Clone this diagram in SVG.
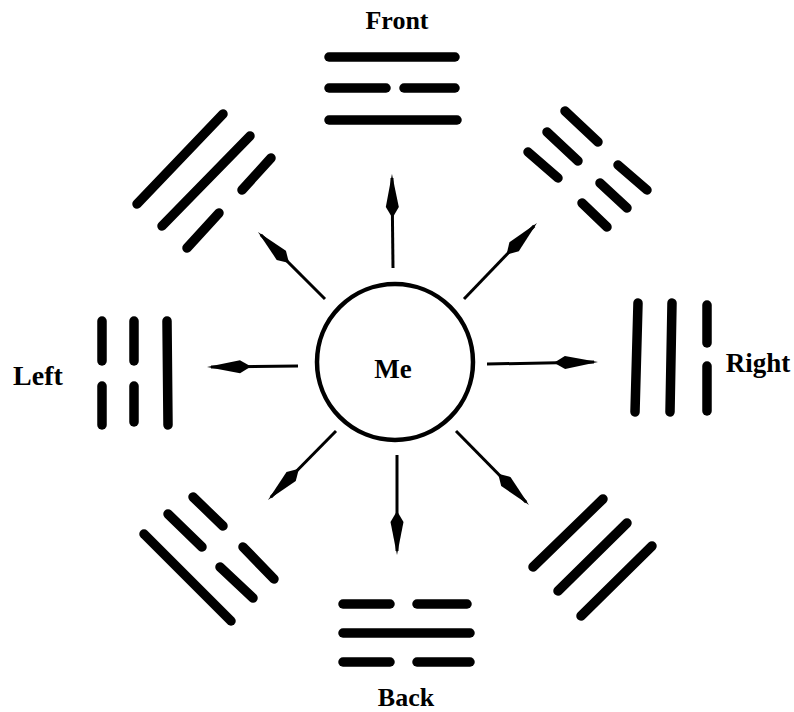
<svg xmlns="http://www.w3.org/2000/svg" width="794" height="712" viewBox="0 0 794 712">
<style>
.bar{stroke:#000;stroke-width:9.5;stroke-linecap:round;fill:none}
.arr{stroke:#000;stroke-width:3;fill:none;marker-end:url(#head)}
.lbl{font-family:"Liberation Serif","Times New Roman",serif;font-weight:bold;fill:#000;text-anchor:middle}
</style>
<defs>
<marker id="head" markerUnits="userSpaceOnUse" markerWidth="44" markerHeight="14" viewBox="0 0 44 14" refX="40" refY="7" orient="auto">
<path d="M0,7 L11,0.5 L44,7 L11,13.5 Z" fill="#000"/>
</marker>
</defs>
<rect width="794" height="712" fill="#fff"/>
<g id="connectors">
<line class="arr" x1="393" y1="268" x2="392" y2="178"/>
<line class="arr" x1="464" y1="299" x2="534.2" y2="225.9"/>
<line class="arr" x1="487" y1="364" x2="594" y2="362.1"/>
<line class="arr" x1="456" y1="431" x2="526.2" y2="502.2"/>
<line class="arr" x1="397" y1="455" x2="397" y2="551"/>
<line class="arr" x1="336" y1="431" x2="270.8" y2="497.2"/>
<line class="arr" x1="298" y1="366" x2="211" y2="367"/>
<line class="arr" x1="325" y1="299" x2="260.8" y2="234.8"/>
</g>
<g id="me">
<circle cx="395" cy="362" r="78" fill="none" stroke="#000" stroke-width="4.5"/>
<text class="lbl" x="393" y="378" font-size="27">Me</text>
</g>
<g id="front">
<text class="lbl" x="397" y="29" font-size="26">Front</text>
<line class="bar" x1="329" y1="57" x2="455" y2="57"/>
<line class="bar" x1="329" y1="88" x2="386" y2="88"/>
<line class="bar" x1="404" y1="88" x2="455" y2="88"/>
<line class="bar" x1="329" y1="120" x2="457" y2="120"/>
</g>
<g id="upper-right">
<line class="bar" x1="565" y1="111" x2="598" y2="142"/>
<line class="bar" x1="618" y1="165" x2="647" y2="190"/>
<line class="bar" x1="547" y1="132" x2="578" y2="161"/>
<line class="bar" x1="600" y1="183" x2="627" y2="208"/>
<line class="bar" x1="528" y1="152" x2="558" y2="178"/>
<line class="bar" x1="582" y1="203" x2="607" y2="227"/>
</g>
<g id="right">
<line class="bar" x1="638" y1="303" x2="635" y2="412"/>
<line class="bar" x1="672" y1="303" x2="670" y2="412"/>
<line class="bar" x1="707" y1="305" x2="707" y2="343"/>
<line class="bar" x1="707" y1="366" x2="707" y2="411"/>
<text class="lbl" x="758" y="372" font-size="27">Right</text>
</g>
<g id="lower-right">
<line class="bar" x1="533" y1="567" x2="603" y2="499"/>
<line class="bar" x1="558" y1="591" x2="627" y2="523"/>
<line class="bar" x1="581" y1="616" x2="652" y2="546"/>
</g>
<g id="back">
<line class="bar" x1="343" y1="604" x2="390" y2="604"/>
<line class="bar" x1="417" y1="604" x2="467" y2="604"/>
<line class="bar" x1="343" y1="633" x2="470" y2="633"/>
<line class="bar" x1="343" y1="662" x2="390" y2="662"/>
<line class="bar" x1="417" y1="662" x2="470" y2="662"/>
<text class="lbl" x="406" y="706" font-size="26">Back</text>
</g>
<g id="lower-left">
<line class="bar" x1="144" y1="534" x2="231" y2="621"/>
<line class="bar" x1="168" y1="514" x2="202" y2="547"/>
<line class="bar" x1="220" y1="567" x2="253" y2="598"/>
<line class="bar" x1="193" y1="497" x2="223" y2="526"/>
<line class="bar" x1="243" y1="547" x2="274" y2="579"/>
</g>
<g id="left">
<text class="lbl" x="38" y="385" font-size="28">Left</text>
<line class="bar" x1="102" y1="321" x2="102" y2="361"/>
<line class="bar" x1="102" y1="386" x2="102" y2="425"/>
<line class="bar" x1="134" y1="321" x2="134" y2="361"/>
<line class="bar" x1="134" y1="386" x2="134" y2="422"/>
<line class="bar" x1="167" y1="321" x2="168" y2="425"/>
</g>
<g id="upper-left">
<line class="bar" x1="137" y1="204" x2="223" y2="114"/>
<line class="bar" x1="162" y1="226" x2="250" y2="136"/>
<line class="bar" x1="187" y1="248" x2="219" y2="213"/>
<line class="bar" x1="242" y1="190" x2="271" y2="158"/>
</g>
</svg>
